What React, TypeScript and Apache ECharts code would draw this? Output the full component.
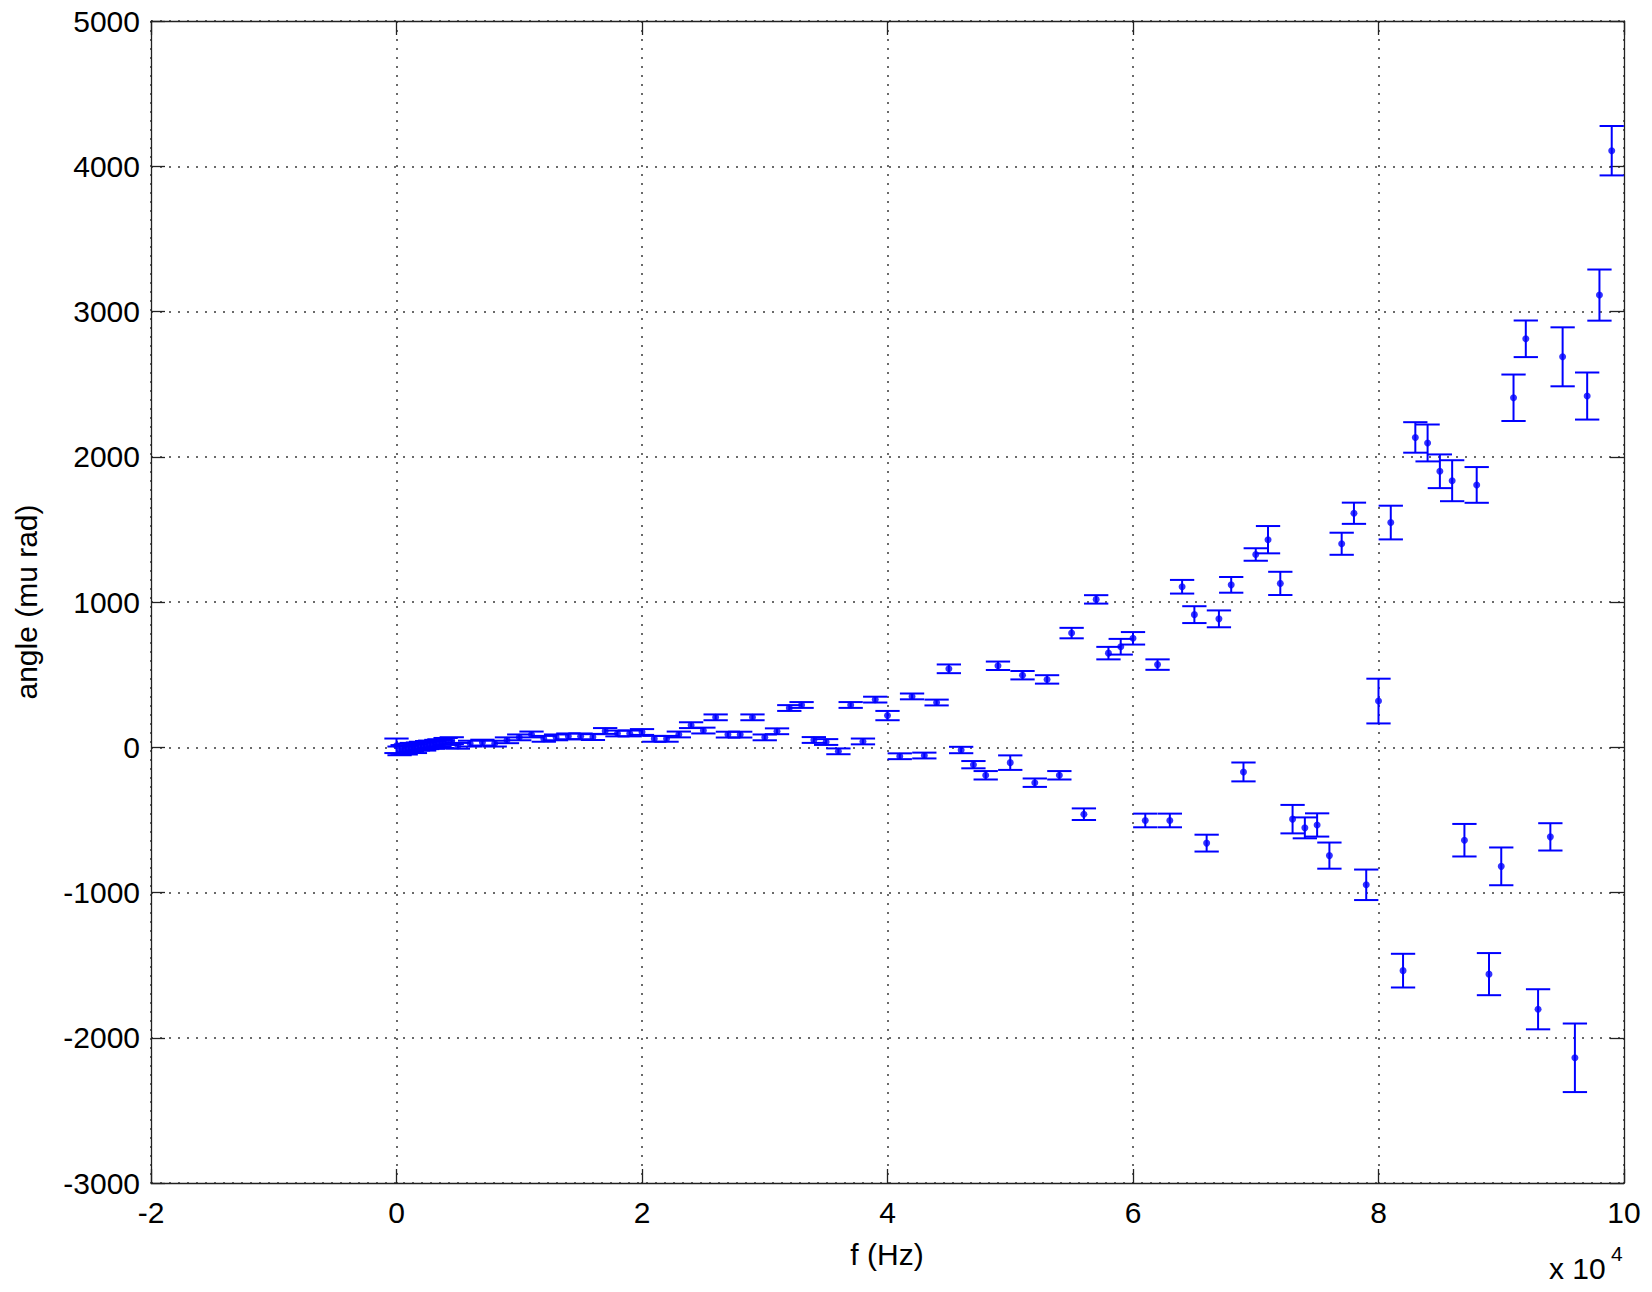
import React, { useEffect, useRef } from "react";
import * as echarts from "echarts";

// Frequency (Hz)
const freqHz = [
  0, 250, 500, 750, 1000, 1250, 1500, 1750, 2000, 2250, 2500, 2750, 3000, 3250, 3500, 3750, 4000, 4500,
  5000, 6000, 7000, 8000, 9000, 10000, 11000, 12000, 13000, 14000, 15000, 16000, 17000, 18000, 19000,
  20000, 21000, 22000, 23000, 24000, 25000, 26000, 27000, 28000, 29000, 30000, 31000, 32000, 33000,
  34000, 35000, 36000, 37000, 38000, 39000, 40000, 41000, 42000, 43000, 44000, 45000, 46000, 47000,
  48000, 49000, 50000, 51000, 52000, 53000, 54000, 55000, 56000, 57000, 58000, 59000, 60000, 61000,
  62000, 63000, 64000, 65000, 66000, 67000, 68000, 69000, 70000, 71000, 72000, 73000, 74000, 75000,
  76000, 77000, 78000, 79000, 80000, 81000, 82000, 83000, 84000, 85000, 86000, 87000, 88000, 89000,
  90000, 91000, 92000, 93000, 94000, 95000, 96000, 97000, 98000, 99000,
];

// Angle (mu rad)
const angleMuRad = [
  10, -25, -15, -20, -5, 0, -10, 5, 10, 5, 15, 20, 15, 25, 30, 20, 40, 45,
  10, 25, 32, 25, 48, 68, 88, 58, 68, 75, 75, 70, 112, 95, 95,
  105, 58, 58, 88, 152, 115, 206, 87, 87, 206, 68, 110, 270, 291,
  50, 36, -28, 291, 40, 328, 218, -62, 350, -57, 308, 540, -19, -120,
  -193, 561, -106, 496, -244, 467, -193, 786, -461, 1018, 648, 692, 750, -504,
  569, -504, 1105, 913, -660, 884, 1118, -170, 1327, 1429, 1128, -495, -555, -535,
  -746, 1401, 1611, -947, 318, 1547, -1538, 2133, 2095, 1900, 1835, -640, 1806, -1562,
  -820, 2406, 2812, -1804, -617, 2688, -2138, 2418, 3113, 4107,
];

// Error bar half-length (mu rad)
const errMuRad = [
  50, 30, 30, 30, 30, 30, 30, 28, 28, 28, 28, 26, 26, 26, 25, 25, 24, 24,
  20, 20, 20, 20, 20, 20, 20, 20, 20, 20, 20, 20, 20, 20, 20,
  20, 20, 20, 20, 20, 20, 20, 20, 20, 20, 20, 20, 20, 20,
  20, 20, 20, 20, 20, 20, 32, 20, 20, 20, 20, 30, 22, 25,
  29, 29, 50, 29, 29, 29, 29, 36, 40, 29, 43, 54, 43, 47,
  36, 47, 47, 58, 58, 58, 54, 65, 43, 94, 80, 98, 72, 80,
  90, 76, 73, 105, 154, 116, 116, 105, 127, 116, 141, 112, 123, 145,
  130, 160, 126, 138, 94, 203, 236, 162, 176, 170,
];

const X_MIN = -20000;
const X_MAX = 100000;
const X_STEP = 20000;
const Y_MIN = -3000;
const Y_MAX = 5000;
const Y_STEP = 1000;
const CAP_HALF_HZ = 990;

const BLUE = "#0000ff";
const FONT = '"Liberation Sans", Arial, Helvetica, sans-serif';

export default function App() {
  const ref = useRef<HTMLDivElement>(null);

  useEffect(() => {
    if (!ref.current) return;
    const chart = echarts.init(ref.current, undefined, { renderer: "svg" });

    const errData = freqHz.map((f, i) => [f, angleMuRad[i], errMuRad[i]]);
    const ptData = freqHz.map((f, i) => [f, angleMuRad[i]]);

    const gridLine = { show: true, lineStyle: { color: "#3a3a3a", width: 1.5, type: [2, 7] as any } };
    const axisLine = { show: true, onZero: false, lineStyle: { color: "#222", width: 1.3 } };
    const tick = { show: true, inside: true, length: 14, lineStyle: { color: "#222", width: 1.3 } };

    chart.setOption({
      animation: false,
      backgroundColor: "#fff",
      grid: { left: 151, top: 21, right: 28, bottom: 109, containLabel: false },
      xAxis: [
        {
          type: "value",
          min: X_MIN,
          max: X_MAX,
          interval: X_STEP,
          position: "bottom",
          axisLine,
          axisTick: tick,
          splitLine: gridLine,
          axisLabel: {
            color: "#000",
            fontFamily: FONT,
            fontSize: 30,
            margin: 14,
            formatter: (v: number) => String(v / 10000),
          },
        },
        {
          type: "value",
          min: X_MIN,
          max: X_MAX,
          interval: X_STEP,
          position: "top",
          axisLine,
          axisTick: tick,
          splitLine: { show: false },
          axisLabel: { show: false },
        },
      ],
      yAxis: [
        {
          type: "value",
          min: Y_MIN,
          max: Y_MAX,
          interval: Y_STEP,
          position: "left",
          axisLine,
          axisTick: tick,
          splitLine: gridLine,
          axisLabel: {
            color: "#000",
            fontFamily: FONT,
            fontSize: 30,
            margin: 11,
            formatter: (v: number) => String(v),
          },
        },
        {
          type: "value",
          min: Y_MIN,
          max: Y_MAX,
          interval: Y_STEP,
          position: "right",
          axisLine,
          axisTick: tick,
          splitLine: { show: false },
          axisLabel: { show: false },
        },
      ],
      series: [
        {
          type: "custom",
          xAxisIndex: 0,
          yAxisIndex: 0,
          data: errData,
          encode: { x: 0, y: 1 },
          renderItem: (params: any, api: any) => {
            const x = api.value(0);
            const y = api.value(1);
            const e = api.value(2);
            const top = api.coord([x, y + e]);
            const bot = api.coord([x, y - e]);
            const l = api.coord([x - CAP_HALF_HZ, y])[0];
            const r = api.coord([x + CAP_HALF_HZ, y])[0];
            const style = { stroke: BLUE, lineWidth: 2, fill: null };
            return {
              type: "group",
              children: [
                { type: "line", shape: { x1: top[0], y1: top[1], x2: bot[0], y2: bot[1] }, style },
                { type: "line", shape: { x1: l, y1: top[1], x2: r, y2: top[1] }, style },
                { type: "line", shape: { x1: l, y1: bot[1], x2: r, y2: bot[1] }, style },
              ],
            };
          },
          z: 3,
        },
        {
          type: "scatter",
          xAxisIndex: 0,
          yAxisIndex: 0,
          data: ptData,
          symbol: "circle",
          symbolSize: 7,
          itemStyle: { color: BLUE },
          z: 4,
        },
      ],
      graphic: [
        {
          type: "text",
          x: 26,
          y: 602,
          rotation: Math.PI / 2,
          style: {
            text: "angle (mu rad)",
            font: `30px ${FONT}`,
            fill: "#000",
            align: "center",
            verticalAlign: "middle",
          },
        },
        {
          type: "text",
          x: 887,
          y: 1254,
          style: {
            text: "f (Hz)",
            font: `30px ${FONT}`,
            fill: "#000",
            align: "center",
            verticalAlign: "middle",
          },
        },
        {
          type: "text",
          x: 1549,
          y: 1268,
          style: {
            text: "x 10",
            font: `30px ${FONT}`,
            fill: "#000",
            align: "left",
            verticalAlign: "middle",
          },
        },
        {
          type: "text",
          x: 1611,
          y: 1253,
          style: {
            text: "4",
            font: `21px ${FONT}`,
            fill: "#000",
            align: "left",
            verticalAlign: "middle",
          },
        },
      ],
    });

    return () => chart.dispose();
  }, []);

  return (
    <div
      ref={ref}
      style={{ position: "absolute", left: 0, top: 0, width: 1652, height: 1292, background: "#fff" }}
    />
  );
}
